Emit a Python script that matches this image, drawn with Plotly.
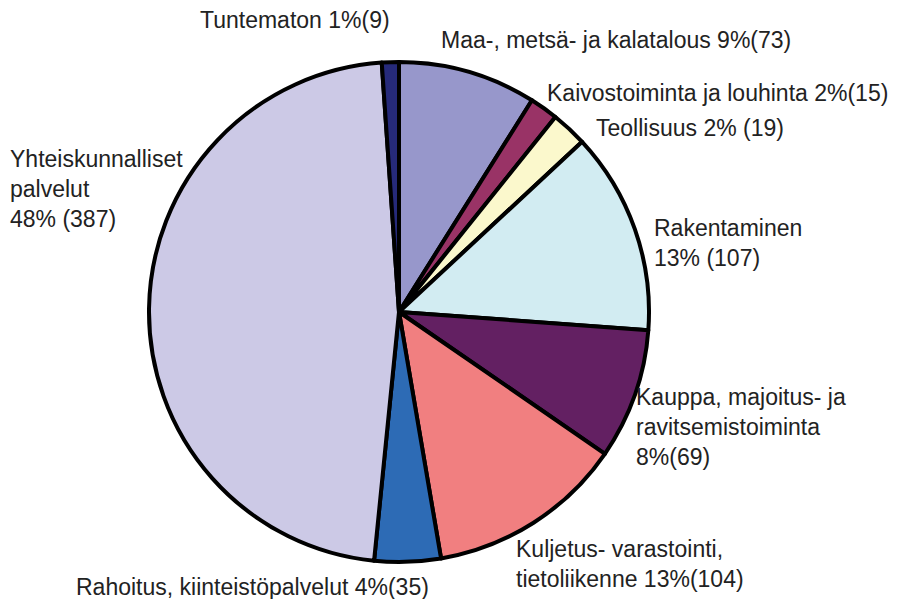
import plotly.graph_objects as go

categories = [
    "Maa-, metsä- ja kalatalous",
    "Kaivostoiminta ja louhinta",
    "Teollisuus",
    "Rakentaminen",
    "Kauppa, majoitus- ja ravitsemistoiminta",
    "Kuljetus- varastointi, tietoliikenne",
    "Rahoitus, kiinteistöpalvelut",
    "Yhteiskunnalliset palvelut",
    "Tuntematon",
]
values = [73, 15, 19, 107, 69, 104, 35, 387, 9]
colors = ["#9797cb", "#993366", "#fbf8cc", "#d2ecf2", "#632062",
          "#f17f80", "#2d6bb5", "#ccc9e6", "#262a7a"]
label_texts = [
    "Maa-, metsä- ja kalatalous 9%(73)",
    "Kaivostoiminta ja louhinta 2%(15)",
    "Teollisuus 2% (19)",
    "Rakentaminen<br>13% (107)",
    "Kauppa, majoitus- ja<br>ravitsemistoiminta<br>8%(69)",
    "Kuljetus- varastointi,<br>tietoliikenne 13%(104)",
    "Rahoitus, kiinteistöpalvelut 4%(35)",
    "Yhteiskunnalliset<br>palvelut<br>48% (387)",
    "Tuntematon 1%(9)",
]
# label anchor positions in pixels (left x, centre y)
label_pos = [(439, 40), (545, 93), (594, 128), (652, 243), (634, 427),
             (514, 564), (74, 587), (8, 189), (198, 20)]

W, H = 904, 599
cx, cy, r = 399, 312, 250

fig = go.Figure(go.Pie(
    labels=categories, values=values, sort=False, direction="clockwise",
    rotation=0, textinfo="none", hoverinfo="label+value+percent",
    marker=dict(colors=colors, line=dict(color="black", width=4)),
    domain=dict(x=[(cx - r) / W, (cx + r) / W], y=[1 - (cy + r) / H, 1 - (cy - r) / H]),
    showlegend=False,
))

for txt, (px, py) in zip(label_texts, label_pos):
    fig.add_annotation(
        x=px / W, y=1 - py / H, xref="paper", yref="paper",
        text=txt, showarrow=False, xanchor="left", yanchor="middle", align="left",
        font=dict(size=23, color="#222222", family="Liberation Sans, Arial, sans-serif"),
    )

fig.update_layout(
    width=W, height=H, margin=dict(l=0, r=0, t=0, b=0),
    paper_bgcolor="white", plot_bgcolor="white",
)
fig.write_html("out.html", config={"displayModeBar": False},
               post_script="document.body.style.margin='0';")
